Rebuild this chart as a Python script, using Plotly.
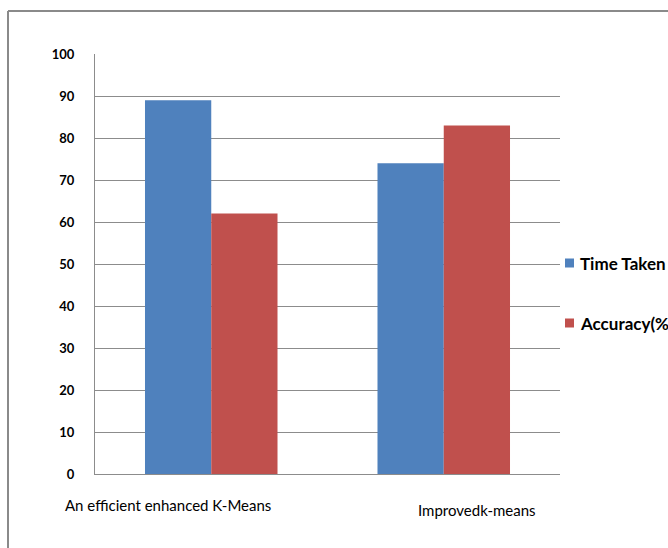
import plotly.graph_objects as go

# Comparison of two clustering methods
categories = ["An efficient enhanced K-Means", "Improvedk-means"]
time_taken = [89, 74]
accuracy = [62, 83]
series_names = ["Time Taken", "Accuracy(%)"]
y_ticks = [0, 10, 20, 30, 40, 50, 60, 70, 80, 90, 100]

BLUE = "#4F81BD"
RED = "#C0504D"
GRID = "#8C8C8C"
FONT = "Lato, 'Liberation Sans', Arial, sans-serif"

# plot-area geometry in pixels (for placing the hand-made legend)
L, R, T, B = 95, 108, 54, 74
W, H = 668, 548
PW, PH = W - L - R, H - T - B


def px_x(px):
    return (px - L) / PW


def px_y(py):
    return (H - B - py) / PH


fig = go.Figure()
fig.add_trace(go.Bar(x=categories, y=time_taken, name=series_names[0],
                     marker=dict(color=BLUE, line=dict(width=0))))
fig.add_trace(go.Bar(x=categories, y=accuracy, name=series_names[1],
                     marker=dict(color=RED, line=dict(width=0))))

# Category labels below the axis, set slightly off-centre
label_shift = [-43, 33]
label_drop = [31, 36]
for cat, dx, dy in zip(categories, label_shift, label_drop):
    fig.add_annotation(x=cat, xref="x", y=0, yref="paper", text=cat,
                       showarrow=False, xshift=dx, yshift=-dy,
                       xanchor="center", yanchor="middle",
                       font=dict(family=FONT, size=15, color="#000000"))

# Legend: colour swatch + bold label for each series
legend_rows = [263, 323]
for name, color, cy in zip(series_names, [BLUE, RED], legend_rows):
    fig.add_shape(type="rect", xref="paper", yref="paper",
                  x0=px_x(565), x1=px_x(574), y0=px_y(cy + 4.5), y1=px_y(cy - 4.5),
                  fillcolor=color, line=dict(width=0))
    fig.add_annotation(x=px_x(578), y=px_y(cy), xref="paper", yref="paper",
                       text=name, showarrow=False, xanchor="left", yanchor="middle",
                       font=dict(family=FONT, size=17, color="#000000", weight="bold"))

# Outer frame (top and left edges visible)
fig.add_shape(type="line", xref="paper", yref="paper",
              x0=px_x(8), x1=px_x(700), y0=px_y(11), y1=px_y(11),
              line=dict(color="#8A8A8A", width=2))
fig.add_shape(type="line", xref="paper", yref="paper",
              x0=px_x(8), x1=px_x(8), y0=px_y(11), y1=px_y(560),
              line=dict(color="#8A8A8A", width=2))

fig.update_layout(
    width=W, height=H,
    margin=dict(l=L, r=R, t=T, b=B),
    plot_bgcolor="white", paper_bgcolor="white",
    barmode="group", bargap=0.43, bargroupgap=0,
    font=dict(family=FONT, color="#000000"),
    showlegend=False,
    xaxis=dict(range=[-0.5, 1.5], showticklabels=False, showline=True,
               linecolor=GRID, linewidth=1, ticks="", showgrid=False,
               zeroline=False),
    yaxis=dict(range=[0, 100], tickvals=y_ticks, showgrid=True,
               gridcolor=GRID, gridwidth=1, showline=True, linecolor=GRID,
               linewidth=1, ticks="", zeroline=False, ticklabelstandoff=17,
               tickfont=dict(family=FONT, size=13, color="#000000", weight="bold")),
)

fig.write_html("out.html")
